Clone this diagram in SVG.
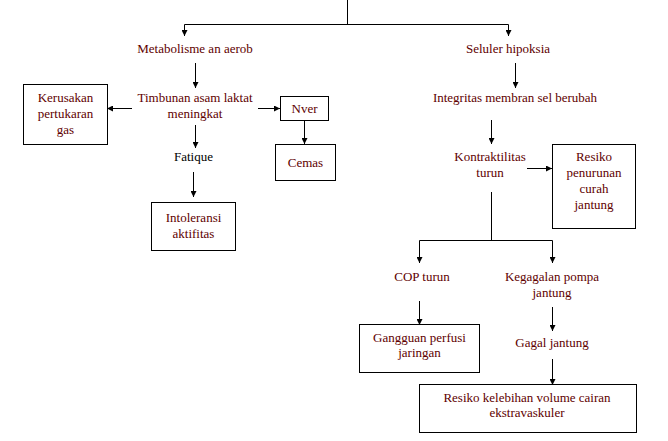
<svg xmlns="http://www.w3.org/2000/svg" width="668" height="441" viewBox="0 0 668 441" font-family="'Liberation Serif', 'DejaVu Serif', serif">
<defs>
<marker id="ah" markerWidth="6" markerHeight="6" refX="6" refY="3" orient="auto" markerUnits="userSpaceOnUse">
<path d="M0,0 L6,3 L0,6 Z" fill="#000"/>
</marker>
<style>
text{font-family:'Liberation Serif','DejaVu Serif',serif;font-size:13px;fill:#600000;text-anchor:middle}
text.blk{fill:#000}
rect{fill:#fff;stroke:#000;stroke-width:1}
#connectors line,#connectors polyline{stroke:#000;stroke-width:1;fill:none}
</style>
</defs>
<rect x="0" y="0" width="668" height="441" style="stroke:none"/>
<g id="connectors">
<line x1="347.5" y1="0" x2="347.5" y2="24.5"/>
<line x1="184.5" y1="24.5" x2="508.5" y2="24.5"/>
<line x1="184.5" y1="24.5" x2="184.5" y2="36" marker-end="url(#ah)"/>
<line x1="508.5" y1="24.5" x2="508.5" y2="36" marker-end="url(#ah)"/>
<line x1="195.5" y1="63" x2="195.5" y2="88" marker-end="url(#ah)"/>
<line x1="132" y1="108.5" x2="107" y2="108.5" marker-end="url(#ah)"/>
<line x1="258" y1="108.5" x2="280" y2="108.5" marker-end="url(#ah)"/>
<line x1="304.5" y1="120" x2="304.5" y2="144" marker-end="url(#ah)"/>
<line x1="195.5" y1="125" x2="195.5" y2="148" marker-end="url(#ah)"/>
<line x1="193.5" y1="172" x2="193.5" y2="197" marker-end="url(#ah)"/>
<line x1="515.5" y1="63" x2="515.5" y2="88" marker-end="url(#ah)"/>
<line x1="491.5" y1="120" x2="491.5" y2="144" marker-end="url(#ah)"/>
<line x1="527" y1="168.5" x2="552" y2="168.5" marker-end="url(#ah)"/>
<line x1="491.5" y1="192" x2="491.5" y2="240.5"/>
<line x1="419.5" y1="240.5" x2="552.5" y2="240.5"/>
<line x1="419.5" y1="240.5" x2="419.5" y2="263" marker-end="url(#ah)"/>
<line x1="552.5" y1="240.5" x2="552.5" y2="263" marker-end="url(#ah)"/>
<line x1="419.5" y1="301" x2="419.5" y2="325" marker-end="url(#ah)"/>
<line x1="552.5" y1="307" x2="552.5" y2="331" marker-end="url(#ah)"/>
<line x1="552.5" y1="359" x2="552.5" y2="385" marker-end="url(#ah)"/>
</g>
<g id="n-metabolisme"><text x="195" y="53">Metabolisme an aerob</text></g>
<g id="n-timbunan"><text x="195" y="102">Timbunan asam laktat</text><text x="195" y="118">meningkat</text></g>
<g id="n-kerusakan"><rect x="23.5" y="84.5" width="84" height="60"/><text x="65.5" y="102">Kerusakan</text><text x="65.5" y="118">pertukaran</text><text x="65.5" y="134">gas</text></g>
<g id="n-nver"><rect x="280.5" y="96.5" width="48" height="24"/><text x="304.5" y="113">Nver</text></g>
<g id="n-cemas"><rect x="275.5" y="144.5" width="60" height="36"/><text x="305.5" y="167">Cemas</text></g>
<g id="n-fatique"><text class="blk" x="193.5" y="161">Fatique</text></g>
<g id="n-intoleransi"><rect x="151.5" y="202.5" width="84" height="48"/><text x="193.5" y="222">Intoleransi</text><text x="193.5" y="238">aktifitas</text></g>
<g id="n-seluler"><text x="508" y="53">Seluler hipoksia</text></g>
<g id="n-integritas"><text x="515" y="102">Integritas membran sel berubah</text></g>
<g id="n-kontraktilitas"><text x="490" y="161">Kontraktilitas</text><text x="490" y="177">turun</text></g>
<g id="n-resiko-curah"><rect x="552.5" y="144.5" width="83" height="84"/><text x="594" y="161">Resiko</text><text x="594" y="177">penurunan</text><text x="594" y="193">curah</text><text x="594" y="209">jantung</text></g>
<g id="n-cop"><text x="422" y="281">COP turun</text></g>
<g id="n-kegagalan"><text x="552" y="281">Kegagalan pompa</text><text x="552" y="297">jantung</text></g>
<g id="n-gangguan"><rect x="359.5" y="324.5" width="120" height="48"/><text x="419.5" y="342">Gangguan perfusi</text><text x="419.5" y="357">jaringan</text></g>
<g id="n-gagal"><text x="552" y="347">Gagal jantung</text></g>
<g id="n-resiko-volume"><rect x="419.5" y="384.5" width="217" height="48"/><text x="527" y="402">Resiko kelebihan volume cairan</text><text x="527" y="417">ekstravaskuler</text></g>
</svg>
